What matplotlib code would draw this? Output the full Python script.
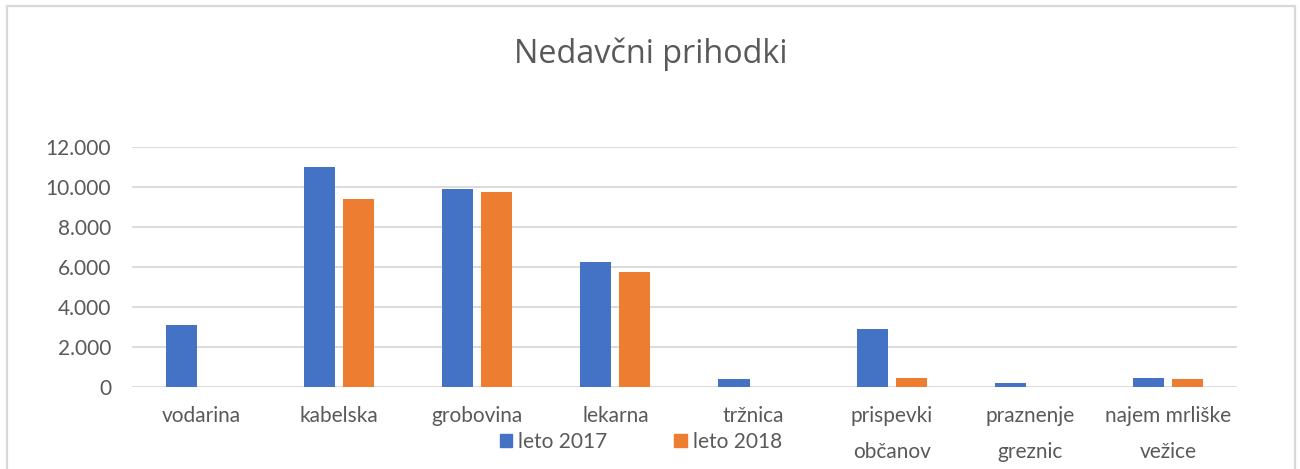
import numpy as np
import matplotlib.pyplot as plt
from matplotlib.patches import Rectangle, Patch
from matplotlib.ticker import FuncFormatter

# data
categories = ['vodarina', 'kabelska', 'grobovina', 'lekarna', 'tržnica',
              'prispevki\nobčanov', 'praznenje\ngreznic', 'najem mrliške\nvežice']
leto_2017 = [3080, 11000, 9900, 6230, 400, 2900, 180, 420]
leto_2018 = [0, 9400, 9740, 5720, 0, 430, 0, 400]
series_names = ['leto 2017', 'leto 2018']
colors = ['#4472C4', '#ED7D31']
text_color = '#595959'
grid_color = '#D9D9D9'

plt.rcParams['font.family'] = ['Lato', 'DejaVu Sans']

fig = plt.figure(figsize=(13, 4.69), dpi=100)
ax = fig.add_axes([0.1015, 0.1755, 0.85, 0.5117])

x = np.arange(len(categories))
w = 0.225
off = w / 2 + 0.029
ax.bar(x - off, leto_2017, w, color=colors[0], zorder=3)
ax.bar(x + off, leto_2018, w, color=colors[1], zorder=3)

ax.set_xlim(-0.5, len(categories) - 0.5)
ax.set_ylim(0, 12000)
ax.set_yticks(np.arange(0, 12001, 2000))
ax.yaxis.set_major_formatter(FuncFormatter(lambda v, p: f'{int(v):,}'.replace(',', '.')))
ax.set_xticks(x)
ax.set_xticklabels(categories, linespacing=2.0)
ax.tick_params(axis='both', length=0, labelsize=15, colors=text_color)
ax.tick_params(axis='y', pad=15)
ax.tick_params(axis='x', pad=14)
ax.grid(axis='y', color=grid_color, linewidth=1.3, zorder=0)
for s in ax.spines.values():
    s.set_visible(False)

fig.text(0.5004, 1 - 63 / 469, 'Nedavčni prihodki', ha='center', va='baseline',
         fontsize=23.3, color=text_color, family=['Open Sans', 'DejaVu Sans'])

handles = [Patch(color=c, label=n) for c, n in zip(colors, series_names)]
fig.legend(handles=handles, loc='center', bbox_to_anchor=(641 / 1300, 1 - 442 / 469),
           ncol=2, frameon=False, fontsize=15, labelcolor=text_color,
           handlelength=0.6, handleheight=0.6, handletextpad=0.3, columnspacing=3.2)

fig.patches.append(Rectangle((7 / 1300, -0.05), 1287.5 / 1300, 1 - 6.5 / 469 + 0.05,
                             transform=fig.transFigure, fill=False,
                             edgecolor=grid_color, linewidth=1.6))

fig.savefig('out.png', dpi=100, facecolor='white')
